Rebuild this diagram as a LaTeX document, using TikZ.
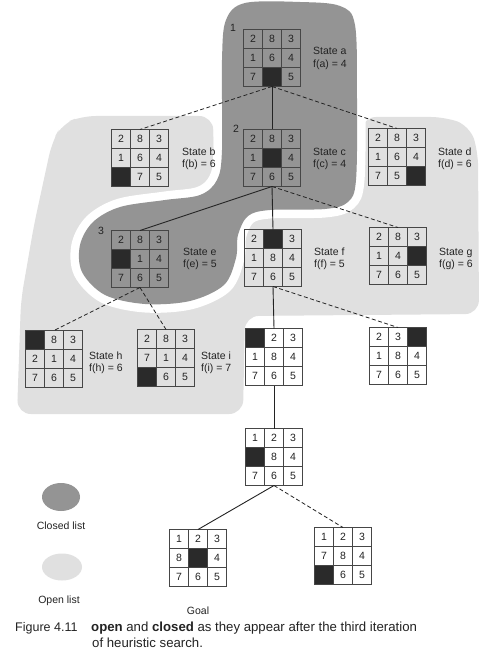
\documentclass[tikz,border=0pt]{standalone}
\usepackage{fontspec}
\setmainfont{Liberation Sans}
\usetikzlibrary{calc,shapes.geometric}
\definecolor{closedc}{RGB}{148,148,148}
\definecolor{openc}{RGB}{224,224,224}
\definecolor{tilec}{RGB}{42,42,42}
\definecolor{linec}{RGB}{70,70,70}
\definecolor{inkc}{RGB}{35,35,35}

\newcommand{\puzzle}[4]{%
  \node[puzbox] (#1) at (#2,#3) {};
  \foreach \v [count=\k from 0] in {#4} {
    \pgfmathtruncatemacro{\cc}{mod(\k,3)}
    \pgfmathtruncatemacro{\rr}{\k/3}
    \ifnum\v=0
      \fill[tilec] ($(#1.north west)+(\cc*19,\rr*19)$) rectangle ++(19,19);
    \else
      \node[digit] (#1-\k) at ($(#1.north west)+(\cc*19+9.5,\rr*19+9.5)$) {\v};
    \fi
  }
  \draw[gridline] (#1.north west) rectangle (#1.south east);
  \foreach \t in {19,38} {
    \draw[gridline] ($(#1.north west)+(\t,0)$) -- ++(0,57);
    \draw[gridline] ($(#1.north west)+(0,\t)$) -- ++(57,0);
  }
}

\begin{document}
\begin{tikzpicture}[x=1pt,y=-1pt,
  puzbox/.style={minimum size=57pt, inner sep=0pt, outer sep=0pt},
  gridline/.style={draw=linec, line width=0.8pt},
  digit/.style={inner sep=0pt, font=\fontsize{10.5}{12}\selectfont, text=inkc},
  statelbl/.style={anchor=west, align=left, inner sep=0pt, font=\fontsize{10.5}{12.5}\selectfont, text=inkc},
  stepnum/.style={inner sep=0pt, font=\fontsize{10.5}{12}\selectfont, text=inkc},
  keylbl/.style={inner sep=0pt, font=\fontsize{10.5}{12}\selectfont, text=inkc},
  caplbl/.style={anchor=base west, inner sep=0pt, font=\fontsize{12.5}{15}\selectfont, text=inkc},
  captext/.style={anchor=base west, inner sep=0pt, font=\fontsize{13.2}{15}\selectfont, text=inkc},
  solidedge/.style={draw=inkc, line width=0.9pt},
  dashedge/.style={draw=inkc, line width=0.8pt, dash pattern=on 4pt off 2.5pt}]

\useasboundingbox[fill=white] (0,0) rectangle (492,660);

% open list region
\fill[openc, rounded corners=14pt]
  (82,116) -- (213,116) -- (215,200) -- (362,200) -- (362,117)
  -- (445,117) -- (470,126) -- (478,152) -- (479,314) -- (245,316) -- (243,414) -- (17,414)
  -- (21,300) -- (34,225) -- (52,142) -- (62,124) -- cycle;

% closed list region with white halo
\path[fill=closedc, preaction={draw=white, line width=17pt}]
  plot[smooth cycle, tension=0.55] coordinates {
  (245,3) (300,2) (340,6) (355,25) (357,100) (356,180) (348,202) (325,209)
  (270,210) (248,216) (238,235) (236,258) (224,285) (190,301) (145,304)
  (105,295) (82,272) (80,245) (93,222) (120,207) (165,200) (200,195)
  (217,180) (222,150) (222,60) (226,20)};

% puzzles
\puzzle{a}{272}{58}{2,8,3,1,6,4,7,0,5}
\puzzle{b}{140}{158}{2,8,3,1,6,4,0,7,5}
\puzzle{c}{272}{158}{2,8,3,1,0,4,7,6,5}
\puzzle{d}{397}{157}{2,8,3,1,6,4,7,5,0}
\puzzle{e}{140}{259}{2,8,3,0,1,4,7,6,5}
\puzzle{f}{273}{258}{2,0,3,1,8,4,7,6,5}
\puzzle{g}{398}{256}{2,8,3,1,4,0,7,6,5}
\puzzle{h}{54}{359}{0,8,3,2,1,4,7,6,5}
\puzzle{i}{166}{358}{2,8,3,7,1,4,0,6,5}
\puzzle{j}{274}{357}{0,2,3,1,8,4,7,6,5}
\puzzle{k}{398}{356}{2,3,0,1,8,4,7,6,5}
\puzzle{l}{274}{457}{1,2,3,0,8,4,7,6,5}
\puzzle{goal}{198}{558}{1,2,3,8,0,4,7,6,5}
\puzzle{m}{343}{556}{1,2,3,7,8,4,0,6,5}

% connectors
\draw[solidedge] (a.south) -- (c.north);
\draw[dashedge] (a.south) -- (b.north);
\draw[dashedge] (a.south) -- (d.north);
\draw[solidedge] (c.south) -- (e.north);
\draw[solidedge] (c.south) -- (f.north);
\draw[dashedge] (c.south) -- (g.north);
\draw[dashedge] (e.south) -- (h.north);
\draw[dashedge] (e.south) -- (i.north);
\draw[solidedge] (f.south) -- (j.north);
\draw[dashedge] (f.south) -- (k.north);
\draw[solidedge] (j.south) -- (l.north);
\draw[solidedge] (l.south) -- (goal.north);
\draw[dashedge] (l.south) -- (m.north);

% state labels
\node[statelbl] (la) at (313,58.5) {State a\\f(a) = 4};
\node[statelbl] (lb) at (182,159) {State b\\f(b) = 6};
\node[statelbl] (lc) at (313,159) {State c\\f(c) = 4};
\node[statelbl] (ld) at (438,159) {State d\\f(d) = 6};
\node[statelbl] (le) at (183,259) {State e\\f(e) = 5};
\node[statelbl] (lf) at (314,259) {State f\\f(f) = 5};
\node[statelbl] (lg) at (439,259) {State g\\f(g) = 6};
\node[statelbl] (lh) at (89,363) {State h\\f(h) = 6};
\node[statelbl] (li) at (201,363) {State i\\f(i) = 7};

% step numbers
\node[stepnum] (s1) at (233,28) {1};
\node[stepnum] (s2) at (236,129) {2};
\node[stepnum] (s3) at (101,231) {3};

\node[keylbl] (goallbl) at (198,611) {Goal};

% legend
\node[ellipse, fill=closedc, minimum width=38pt, minimum height=28pt, inner sep=0pt] (closedkey) at (61,497) {};
\node[keylbl] (closedlbl) at (61,526) {Closed list};
\node[ellipse, fill=openc, minimum width=40pt, minimum height=27pt, inner sep=0pt] (openkey) at (62,567) {};
\node[keylbl] (openlbl) at (59,601) {Open list};

% caption
\node[caplbl] (figno) at (15,631) {Figure 4.11};
\node[captext] (cap1) at (91,631) {\textbf{open} and \textbf{closed} as they appear after the third iteration};
\node[captext] (cap2) at (92,647) {of heuristic search.};
\end{tikzpicture}
\end{document}
